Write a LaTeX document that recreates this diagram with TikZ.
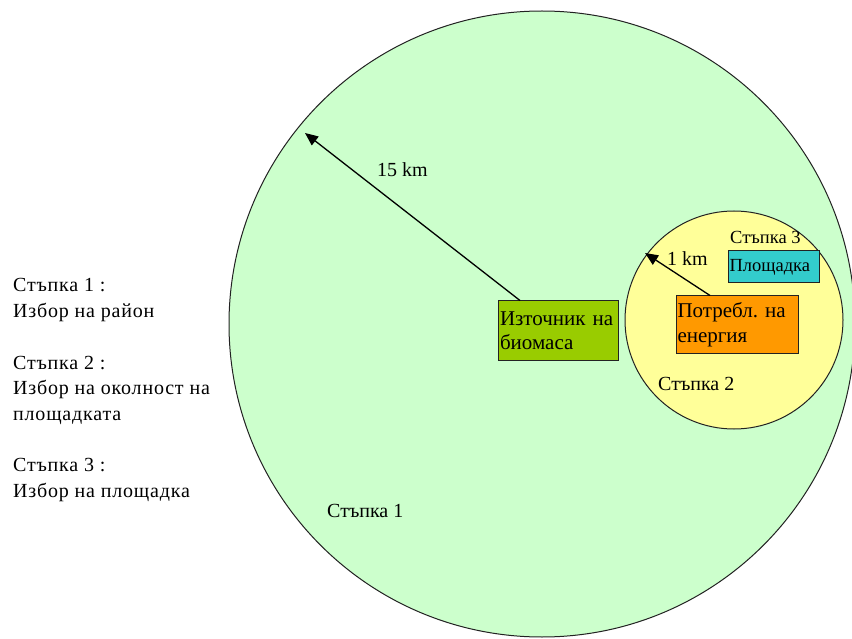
\documentclass[tikz,border=0pt]{standalone}
\usepackage{fontspec}
\setmainfont{Liberation Serif}
\newfontfamily\legendfont{Liberation Serif}[LetterSpace=4]
\usetikzlibrary{arrows.meta}
\definecolor{lgreen}{HTML}{CCFFCC}
\definecolor{lyellow}{HTML}{FFFF99}
\definecolor{bgreen}{HTML}{99CC00}
\definecolor{borange}{HTML}{FF9900}
\definecolor{bcyan}{HTML}{33CCCC}
\definecolor{edge}{HTML}{222222}
\tikzset{
  zone/.style={circle,draw=edge,line width=1pt,inner sep=0pt},
  box/.style={rectangle,draw=edge,line width=1pt,inner sep=1.5pt,align=left,anchor=center},
  boxtext/.style={font=\fontsize{21}{24.5}\selectfont},
  lbl/.style={font=\fontsize{20}{25}\selectfont,inner sep=0pt,anchor=base west,align=left},
  legend/.style={font=\legendfont\fontsize{20}{25.5}\selectfont,inner sep=0pt,anchor=base west,align=left},
  small/.style={font=\fontsize{18.5}{20}\selectfont,inner sep=0pt,anchor=base west},
  arr/.style={-{Triangle[length=13pt,width=11pt]},line width=1.3pt,draw=black}
}
\begin{document}
\frenchspacing
\begin{tikzpicture}[x=1pt,y=-1pt]
\useasboundingbox (0,0) rectangle (852,639);
\fill[white] (0,0) rectangle (852,639);
% zones
\node[zone,fill=lgreen,minimum size=626pt] (big) at (542,324) {};
\node[zone,fill=lyellow,minimum size=218pt] (small) at (734,320) {};
% boxes
\node[box,boxtext,fill=bgreen,minimum width=120pt,minimum height=59pt,text width=116pt] (src) at (558,330.5) {Източник на\\биомаса};
\node[box,boxtext,fill=borange,minimum width=122pt,minimum height=57pt,text width=119pt,inner sep=0.5pt] (cons) at (737,324.5) {Потребл. на\\енергия};
\node[box,font=\fontsize{18.5}{20}\selectfont,fill=bcyan,minimum width=91pt,minimum height=32pt,text width=88pt,inner sep=1pt] (site) at (773.5,267) {Площадка};
% arrows
\coordinate (t15) at (305,133);
\coordinate (t1) at (645,253);
\draw[arr] ([xshift=-38pt]src.north) -- (t15);
\draw[arr] ([xshift=-27pt]cons.north) -- (t1);
% labels
\node[lbl] (l15) at (377,177) {15 km};
\node[lbl] (l1) at (667,266) {1 km};
\node[small] (s3) at (730,244) {Стъпка 3};
\node[lbl] (s2) at (658,390) {Стъпка 2};
\node[lbl] (s1) at (327,517) {Стъпка 1};
% legend
\node[legend] (leg1) at (13,317) {Стъпка 1 :\\Избор на район};
\node[legend] (leg2) at (13,420) {Стъпка 2 :\\Избор на околност на\\площадката};
\node[legend] (leg3) at (13,497) {Стъпка 3 :\\Избор на площадка};
\end{tikzpicture}
\end{document}
